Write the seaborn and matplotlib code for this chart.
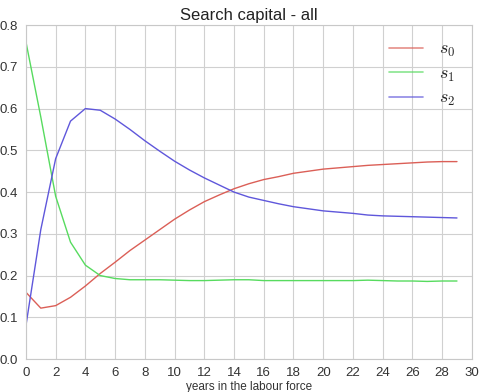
import numpy as np
import pandas as pd
import matplotlib
matplotlib.use('Agg')
import matplotlib.pyplot as plt
import seaborn as sns

years = list(range(30))
s0 = [0.160, 0.122, 0.128, 0.148, 0.175, 0.205, 0.232, 0.260, 0.285, 0.310,
      0.335, 0.357, 0.377, 0.393, 0.408, 0.420, 0.430, 0.437, 0.445, 0.450,
      0.455, 0.458, 0.461, 0.464, 0.466, 0.468, 0.470, 0.472, 0.473, 0.473]
s1 = [0.760, 0.580, 0.390, 0.280, 0.225, 0.200, 0.193, 0.190, 0.190, 0.190,
      0.189, 0.188, 0.188, 0.189, 0.190, 0.190, 0.188, 0.188, 0.188, 0.188,
      0.188, 0.188, 0.188, 0.189, 0.188, 0.187, 0.187, 0.186, 0.187, 0.187]
s2 = [0.080, 0.310, 0.480, 0.570, 0.600, 0.596, 0.575, 0.550, 0.523, 0.498,
      0.474, 0.453, 0.434, 0.417, 0.400, 0.388, 0.380, 0.372, 0.365, 0.360,
      0.355, 0.352, 0.349, 0.345, 0.343, 0.342, 0.341, 0.340, 0.339, 0.338]

df = pd.DataFrame({'year': years, '$s_0$': s0, '$s_1$': s1, '$s_2$': s2})
long = df.melt(id_vars='year', var_name='series', value_name='share')

sns.set_style('whitegrid', {'grid.color': '#d0d0d0', 'axes.edgecolor': '#c8c8c8'})
plt.rcParams['font.family'] = ['Liberation Sans', 'DejaVu Sans']
plt.rcParams['mathtext.fontset'] = 'cm'

fig, ax = plt.subplots(figsize=(4.8, 3.92), dpi=100)
fig.subplots_adjust(left=0.054, right=0.983, top=0.936, bottom=0.084)

sns.lineplot(data=long, x='year', y='share', hue='series',
             palette=sns.color_palette('hls', 3), linewidth=1, ax=ax)

ax.set_xlim(0, 30)
ax.set_ylim(0, 0.8)
ax.set_xticks(range(0, 31, 2))
ax.set_yticks(np.arange(0, 0.81, 0.1))
ax.tick_params(labelsize=9.5, colors='#333333', pad=2)
ax.set_xlabel('years in the labour force', fontsize=8.5, color='#333333', labelpad=2)
ax.set_ylabel('')
ax.set_title('Search capital - all', fontsize=12, color='#222222', pad=4)

leg = ax.legend(loc='upper right', frameon=False, fontsize=13, handlelength=1.9,
                borderaxespad=0.5, labelspacing=0.35, handletextpad=0.9)
for line in leg.get_lines():
    line.set_alpha(0.7)
    line.set_linewidth(1.2)

fig.savefig('out.png', dpi=100)
